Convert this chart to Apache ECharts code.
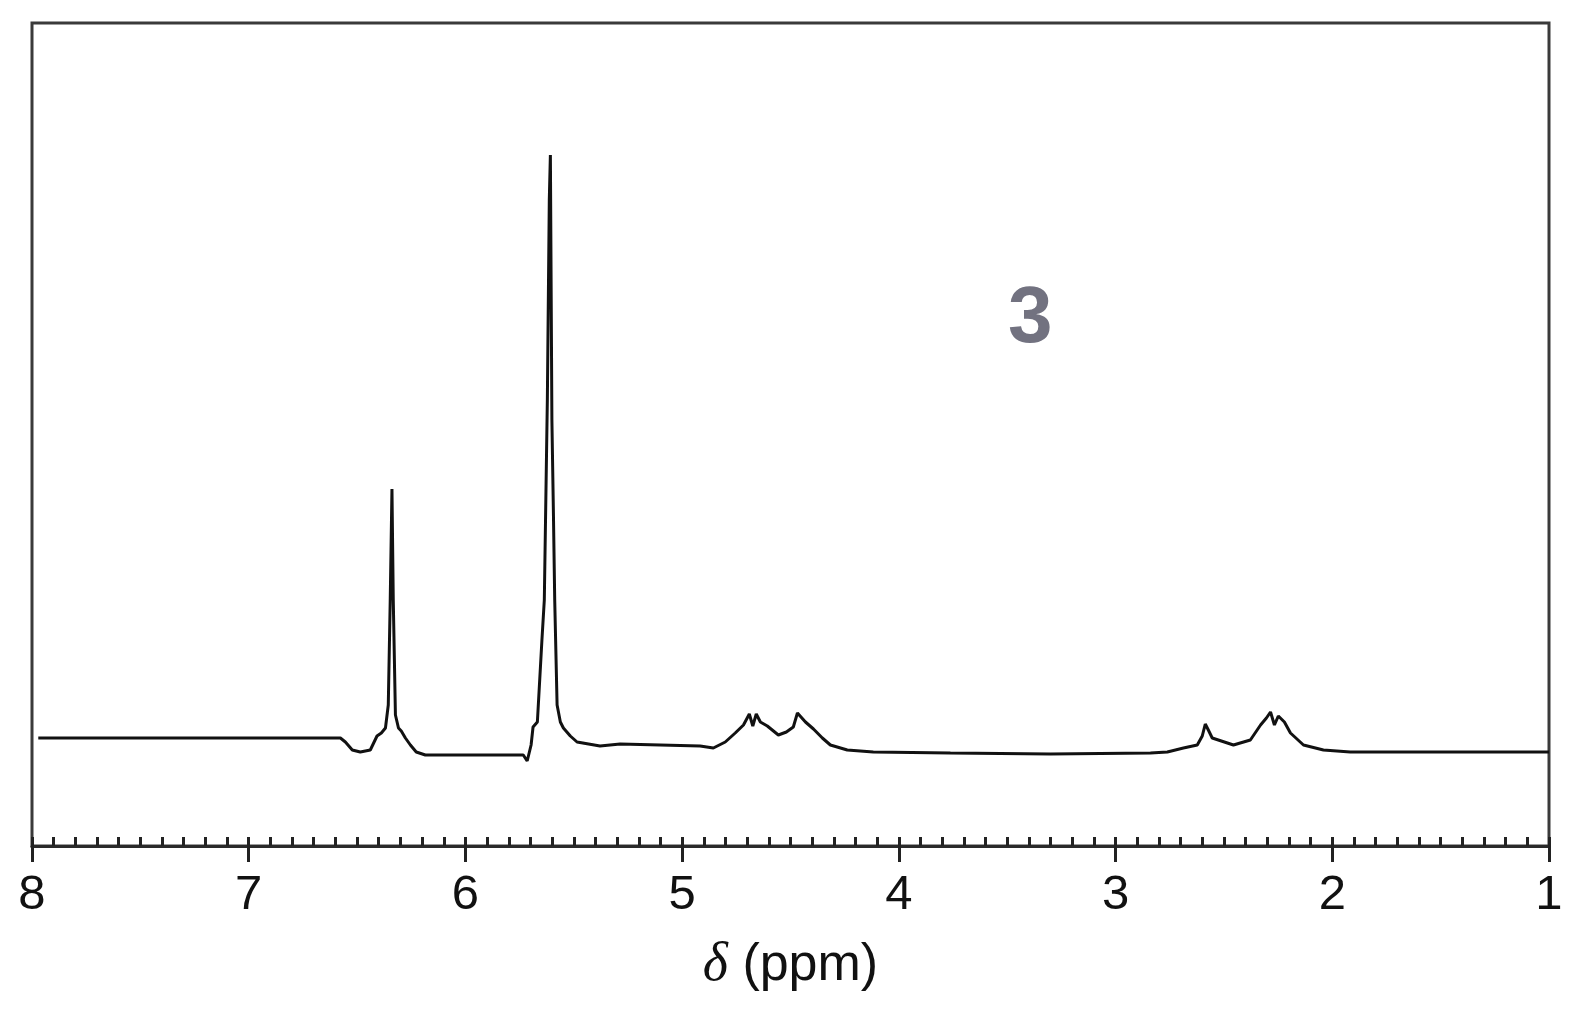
<!DOCTYPE html>
<html>
<head>
<meta charset="utf-8">
<title>1H NMR spectrum 3</title>
<script src="https://cdn.jsdelivr.net/npm/echarts@6/dist/echarts.min.js"></script>
<style>
  html, body { margin: 0; padding: 0; background: #fff; }
  #chart { width: 1581px; height: 1021px; }
</style>
</head>
<body>
<div id="chart"></div>
<script>
// chemical shift (ppm)
var shiftPpm = [
  7.971, 7.223, 6.577, 6.554, 6.522, 6.485, 6.439, 6.408, 6.388, 6.369,
  6.356, 6.347, 6.339, 6.333, 6.323, 6.309, 6.296, 6.277, 6.254, 6.227,
  6.185, 5.977, 5.733, 5.715, 5.697, 5.688, 5.668, 5.647, 5.636, 5.622,
  5.613, 5.608, 5.601, 5.594, 5.588, 5.577, 5.562, 5.548, 5.516, 5.485,
  5.379, 5.286, 5.101, 4.917, 4.856, 4.801, 4.755, 4.717, 4.690, 4.674,
  4.658, 4.639, 4.607, 4.556, 4.519, 4.487, 4.468, 4.431, 4.394, 4.353,
  4.316, 4.238, 4.118, 3.762, 3.301, 2.839, 2.761, 2.687, 2.623, 2.600,
  2.586, 2.572, 2.554, 2.456, 2.378, 2.331, 2.304, 2.285, 2.267, 2.249,
  2.221, 2.193, 2.133, 2.041, 1.917, 1.455, 1.000
];
// signal intensity (arbitrary units)
var intensity = [
  108, 108, 108, 104,  96,  94,  96, 110, 113, 118,
  141, 246, 357, 246, 131, 118, 115, 108, 101,  94,
   91,  91,  91,  85, 101, 119, 124, 206, 246, 446,
  646, 691, 426, 333, 246, 141, 124, 118, 110, 104,
  100, 102, 101, 100,  98, 104, 113, 121, 132, 120,
  132, 124, 120, 111, 114, 119, 133, 124, 117, 108,
  101,  96,  94,  93,  92,  93,  94,  98, 101, 110,
  122, 116, 108, 101, 106, 121, 128, 134, 121, 130,
  124, 113, 101,  96,  94,  94,  94
];
var shiftRange = [1, 8];
var sampleLabel = '3';
var axisTitle = '{d|δ} (ppm)';

var spectrum = shiftPpm.map(function (s, i) {
  return [s, intensity[i]];
});

var chart = echarts.init(document.getElementById('chart'));

var option = {
  backgroundColor: '#ffffff',
  animation: false,
  grid: {
    left: 32,
    right: 32,
    top: 23,
    bottom: 175,
    show: true,
    borderColor: '#3a3a3a',
    borderWidth: 3,
    backgroundColor: 'transparent'
  },
  xAxis: [
    {
      type: 'value',
      min: shiftRange[0],
      max: shiftRange[1],
      interval: 1,
      inverse: true,
      splitLine: { show: false },
      axisLine: { show: true, onZero: false, lineStyle: { color: '#2a2a2a', width: 3 } },
      axisTick: { show: true, inside: true, length: 9, lineStyle: { color: '#222', width: 3 } },
      minorTick: { show: true, splitNumber: 10, length: 9, lineStyle: { color: '#222', width: 3 } },
      axisLabel: {
        show: true,
        margin: 25,
        fontFamily: 'Liberation Sans, Arial, sans-serif',
        fontSize: 49,
        color: '#111',
        formatter: function (v) { return String(Math.round(v)); }
      },
      name: axisTitle,
      nameLocation: 'middle',
      nameGap: 93,
      nameTextStyle: {
        fontFamily: 'Liberation Sans, Arial, sans-serif',
        fontSize: 52,
        color: '#111',
        rich: {
          d: {
            fontFamily: 'Liberation Serif, Times New Roman, serif',
            fontStyle: 'italic',
            fontSize: 54,
            color: '#111'
          }
        }
      }
    },
    {
      // outward half of the major ticks
      type: 'value',
      position: 'bottom',
      min: shiftRange[0],
      max: shiftRange[1],
      interval: 1,
      inverse: true,
      splitLine: { show: false },
      axisLine: { show: false, onZero: false },
      axisTick: { show: true, inside: false, length: 16, lineStyle: { color: '#222', width: 3 } },
      axisLabel: { show: false }
    }
  ],
  yAxis: {
    type: 'value',
    min: 0,
    max: 823,
    show: false
  },
  graphic: [
    {
      type: 'text',
      left: 1008,
      top: 280,
      style: {
        text: sampleLabel,
        fontFamily: 'Liberation Sans, Arial, sans-serif',
        fontSize: 80,
        fontWeight: 'bold',
        fill: '#727280'
      }
    }
  ],
  series: [
    {
      name: 'spectrum',
      type: 'line',
      xAxisIndex: 0,
      showSymbol: false,
      smooth: false,
      clip: true,
      lineStyle: { color: '#111', width: 3 },
      data: spectrum
    }
  ]
};

chart.setOption(option);
</script>
</body>
</html>
